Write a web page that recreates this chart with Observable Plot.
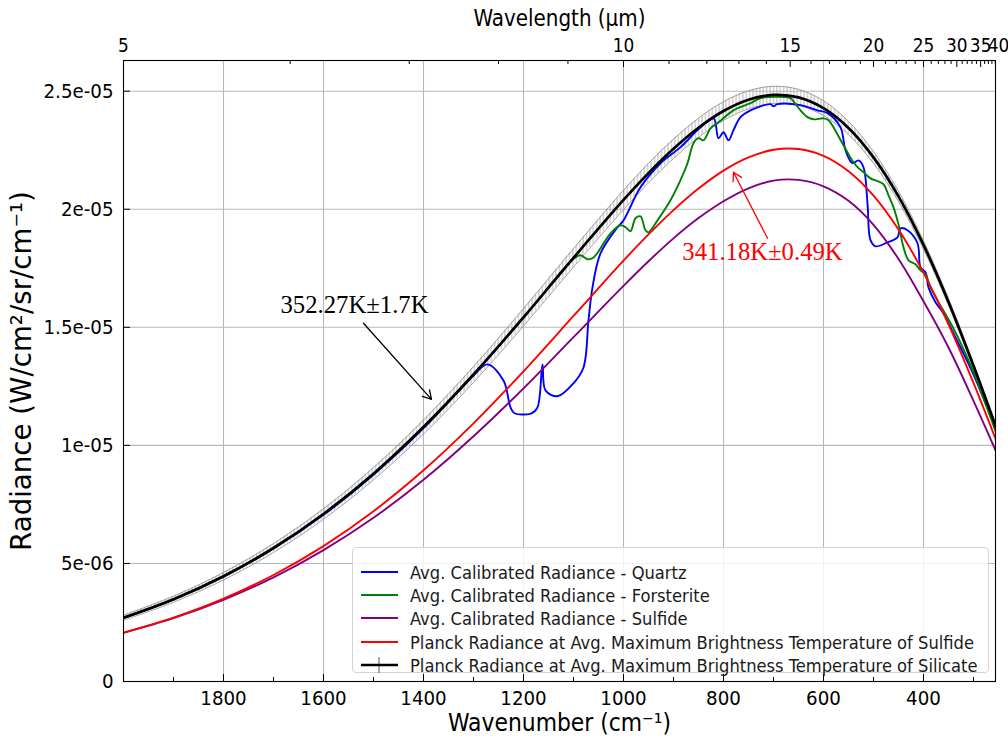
<!DOCTYPE html>
<html><head><meta charset="utf-8">
<script src="https://cdn.jsdelivr.net/npm/d3@7"></script>
<script src="https://cdn.jsdelivr.net/npm/@observablehq/plot@0.6"></script>
<style>
body{margin:0;background:#fff;}
#wrap{position:relative;width:1008px;height:736px;font-family:"DejaVu Sans",sans-serif;}
#legend{position:absolute;left:352px;top:547px;width:637px;height:126px;border:1px solid #d4d4d4;border-radius:4px;background:rgba(255,255,255,0.8);box-sizing:border-box;}
.row{position:absolute;left:7px;height:22px;display:flex;align-items:center;color:#1a1a1a;white-space:nowrap;}
.row svg{margin-right:11px;flex:none;}
</style></head><body><div id="wrap"></div>
<script>
// ---------- data ----------
const planckNu = [2000,1900,1800,1700,1600,1500,1400,1300,1200,1100,1000,950,900,850,800,750,700,650,600,550,500,450,400,350,300,250];
const silicatePlanck = [2.701e-6,3.485e-6,4.459e-6,5.653e-6,7.094e-6,8.799e-6,1.0776e-5,1.3001e-5,1.5422e-5,1.7942e-5,2.0394e-5,2.1531e-5,2.2561e-5,2.3451e-5,2.4159e-5,2.4636e-5,2.4844e-5,2.4738e-5,2.4281e-5,2.3441e-5,2.2196e-5,2.0543e-5,1.8489e-5,1.6076e-5,1.3370e-5,1.0477e-5];
const silicateErr = [1.07e-7,1.31e-7,1.58e-7,1.90e-7,2.24e-7,2.61e-7,2.98e-7,3.35e-7,3.68e-7,3.93e-7,4.09e-7,4.12e-7,4.11e-7,4.06e-7,3.96e-7,3.82e-7,3.64e-7,3.41e-7,3.14e-7,2.84e-7,2.51e-7,2.17e-7,1.81e-7,1.46e-7,1.12e-7,8.1e-8];
const sulfidePlanck = [2.0715e-6,2.7079e-6,3.5108e-6,4.5102e-6,5.7346e-6,7.2087e-6,8.9435e-6,1.0932e-5,1.3138e-5,1.5480e-5,1.7822e-5,1.8933e-5,1.9964e-5,2.0878e-5,2.1638e-5,2.2197e-5,2.2519e-5,2.2552e-5,2.2262e-5,2.1610e-5,2.0575e-5,1.9140e-5,1.7316e-5,1.5129e-5,1.2644e-5,9.952e-6];
const sulfideRad = [2.061e-6,2.681e-6,3.458e-6,4.406e-6,5.563e-6,6.935e-6,8.541e-6,1.0385e-5,1.2415e-5,1.4582e-5,1.6753e-5,1.7797e-5,1.8766e-5,1.9625e-5,2.0340e-5,2.0887e-5,2.1213e-5,2.1244e-5,2.0971e-5,2.0357e-5,1.9341e-5,1.7896e-5,1.6104e-5,1.4146e-5,1.1885e-5,9.504e-6];

const quartzNu = [2000,1900,1800,1700,1600,1500,1400,1300,1272,1240,1226,1218,1184,1172,1162,1156,1132,1100,1080,1070,1062,1046,1012,1000,966,926,886,846,820,810,800,790,780,766,746,706,700,692,646,612,592,566,556,542,530,520,512,506,496,472,452,446,432,412,406,396,390,376,360,340,300,256];
const quartzRad = [2.69e-6,3.47e-6,4.44e-6,5.63e-6,7.06e-6,8.76e-6,1.073e-5,1.296e-5,1.343e-5,1.275e-5,1.161e-5,1.136e-5,1.136e-5,1.161e-5,1.343e-5,1.233e-5,1.208e-5,1.263e-5,1.330e-5,1.530e-5,1.669e-5,1.813e-5,1.924e-5,1.953e-5,2.093e-5,2.195e-5,2.263e-5,2.347e-5,2.385e-5,2.301e-5,2.326e-5,2.292e-5,2.335e-5,2.390e-5,2.419e-5,2.445e-5,2.436e-5,2.445e-5,2.441e-5,2.419e-5,2.407e-5,2.347e-5,2.250e-5,2.195e-5,2.207e-5,2.178e-5,2.025e-5,1.869e-5,1.843e-5,1.860e-5,1.881e-5,1.919e-5,1.911e-5,1.856e-5,1.754e-5,1.733e-5,1.669e-5,1.606e-5,1.559e-5,1.474e-5,1.300e-5,1.07e-5];

const forsteriteNu = [2000,1900,1800,1700,1600,1500,1400,1300,1200,1100,1086,1072,1060,1026,1006,996,986,976,966,956,950,932,906,886,872,860,850,840,826,810,780,746,726,666,660,646,632,620,600,590,580,570,560,550,540,530,520,506,492,480,470,460,450,440,430,416,406,396,386,372,340,300,256];
const forsteriteRad = [2.70e-6,3.48e-6,4.45e-6,5.65e-6,7.09e-6,8.79e-6,1.077e-5,1.299e-5,1.541e-5,1.79e-5,1.805e-5,1.788e-5,1.796e-5,1.898e-5,1.932e-5,1.924e-5,1.907e-5,1.962e-5,1.970e-5,1.911e-5,1.902e-5,1.953e-5,2.038e-5,2.123e-5,2.195e-5,2.280e-5,2.301e-5,2.292e-5,2.343e-5,2.368e-5,2.419e-5,2.449e-5,2.470e-5,2.470e-5,2.457e-5,2.419e-5,2.390e-5,2.381e-5,2.385e-5,2.377e-5,2.347e-5,2.309e-5,2.271e-5,2.233e-5,2.199e-5,2.174e-5,2.157e-5,2.131e-5,2.119e-5,2.106e-5,2.059e-5,2.008e-5,1.936e-5,1.839e-5,1.784e-5,1.767e-5,1.741e-5,1.724e-5,1.669e-5,1.614e-5,1.495e-5,1.31e-5,1.06e-5];

const xMajorTicks = [1800,1600,1400,1200,1000,800,600,400];
const xMinorTicks = [1900,1700,1500,1300,1100,900,700,500,300];
const wavelengthLabels = [5,10,15,20,25,30,35,40];
const wavelengthMinor = [6,7,8,9,11,12,13,14,16,17,18,19,21,22,23,24,26,27,28,29,31,32,33,34,36,37,38,39];
const yTicks = [0,5e-6,1e-5,1.5e-5,2e-5,2.5e-5];
const yTickLabels = ["0","5e-06","1e-05","1.5e-05","2e-05","2.5e-05"];

const noteText = ["352.27K\u00b11.7K","341.18K\u00b10.49K"];
const noteNu = [1538,722];
const noteRad = [1.593e-5,1.818e-5];
const noteColor = ["black","red"];
const arrowFromNu = [1520,712], arrowFromRad = [1.517e-5,1.877e-5];
const arrowToNu = [1384,780], arrowToRad = [1.195e-5,2.157e-5];

const legendLabels = ["Avg. Calibrated Radiance - Quartz","Avg. Calibrated Radiance - Forsterite","Avg. Calibrated Radiance - Sulfide","Planck Radiance at Avg. Maximum Brightness Temperature of Sulfide","Planck Radiance at Avg. Maximum Brightness Temperature of Silicate"];
const legendColors = ["blue","green","purple","red","black"];

const xLabel = "Wavenumber (cm\u207b\u00b9)";
const topLabel = "Wavelength (\u00b5m)";
const yLabel = "Radiance (W/cm\u00b2/sr/cm\u207b\u00b9)";

// ---------- font sizing ----------
const ctx=document.createElement("canvas").getContext("2d");
function tw(font,text){ctx.font=font;return ctx.measureText(text).width;}
const probe="abcdefghijklmnopqrstuvwxyzWM0123";
const hasCond = Math.abs(tw("40px 'DejaVu Sans Condensed', monospace",probe)-tw("40px monospace",probe))>0.5;
const hfam = hasCond ? "'DejaVu Sans Condensed', 'DejaVu Sans', sans-serif" : "'DejaVu Sans', sans-serif";
const vfam = "'DejaVu Sans', sans-serif";
const sfam = "'Liberation Serif', 'Times New Roman', serif";
function fit(fam,text,target){return 100*target/tw("100px "+fam,text);}
const tickFS = fit(hfam,"2.5e-05",70);
const topTickFS = tickFS*0.93;
const xLabFS = fit(hfam,xLabel,223);
const topLabFS = fit(hfam,topLabel,172);
const legFS = fit(hfam,legendLabels[4],568);
const noteFS = fit(sfam,noteText[0],148);
const yLabFS = fit(vfam,yLabel,360);

// ---------- build ----------
const W=1008,H=736,mT=60,mB=55,mL=123,mR=13;
const frameH=H-mT-mB, frameW=W-mL-mR;
const planck = planckNu.map((nu,i)=>({nu, black:silicatePlanck[i], lo:silicatePlanck[i]-silicateErr[i], hi:silicatePlanck[i]+silicateErr[i], red:sulfidePlanck[i], purple:sulfideRad[i]}));
const quartz = quartzNu.map((nu,i)=>({nu, r:quartzRad[i]}));
const forst = forsteriteNu.map((nu,i)=>({nu, r:forsteriteRad[i]}));
const notes = noteText.map((t,i)=>({t, x:noteNu[i], y:noteRad[i], c:noteColor[i]}));
const arrows = arrowFromNu.map((d,i)=>({x1:d, y1:arrowFromRad[i], x2:arrowToNu[i], y2:arrowToRad[i], c:noteColor[i]}));
const topMajorNu = wavelengthLabels.map(l=>10000/l);
const topMinorNu = wavelengthMinor.map(l=>10000/l).filter(v=>v>=256);
const yLab = new Map(yTicks.map((t,i)=>[t,yTickLabels[i]]));
const curve="catmull-rom";

const plot = Plot.plot({
  width:W, height:H, marginTop:mT, marginBottom:mB, marginLeft:mL, marginRight:mR,
  style:{fontFamily:hfam, fontSize:tickFS+"px", background:"white", color:"black", overflow:"visible"},
  x:{domain:[2000,256]},
  y:{domain:[0,2.63e-5]},
  marks:[
    Plot.gridX(xMajorTicks,{stroke:"#b8b8b8", strokeOpacity:1, strokeWidth:1.1}),
    Plot.gridY(yTicks,{stroke:"#b8b8b8", strokeOpacity:1, strokeWidth:1.1}),
    Plot.areaY(planck,{x:"nu", y1:"lo", y2:"hi", curve, fill:"#cccccc", className:"band", clip:true}),
    Plot.line(planck,{x:"nu", y:"hi", curve, stroke:"#8c8c8c", strokeWidth:0.8, clip:true}),
    Plot.line(planck,{x:"nu", y:"lo", curve, stroke:"#8c8c8c", strokeWidth:0.8, clip:true}),
    Plot.line(quartz,{x:"nu", y:"r", curve, stroke:"blue", strokeWidth:1.9, clip:true}),
    Plot.line(forst,{x:"nu", y:"r", curve, stroke:"green", strokeWidth:1.9, clip:true}),
    Plot.line(planck,{x:"nu", y:"purple", curve, stroke:"purple", strokeWidth:1.9, clip:true}),
    Plot.line(planck,{x:"nu", y:"red", curve, stroke:"red", strokeWidth:1.9, clip:true}),
    Plot.line(planck,{x:"nu", y:"black", curve, stroke:"black", strokeWidth:2.7, clip:true}),
    Plot.arrow(arrows,{x1:"x1", y1:"y1", x2:"x2", y2:"y2", stroke:"c", strokeWidth:1.3, headLength:11}),
    Plot.text(notes,{x:"x", y:"y", text:"t", fill:"c", fontFamily:sfam, fontSize:noteFS}),
    Plot.frame({stroke:"black", strokeWidth:1.1}),
    Plot.ruleX(xMajorTicks,{insetTop:frameH-7, stroke:"black"}),
    Plot.ruleX(xMinorTicks,{insetTop:frameH-4, stroke:"black"}),
    Plot.ruleX(topMajorNu.filter(v=>v>=256),{insetBottom:frameH-7, stroke:"black"}),
    Plot.ruleX(topMinorNu,{insetBottom:frameH-4, stroke:"black"}),
    Plot.ruleY(yTicks,{insetRight:frameW-7, stroke:"black"}),
    Plot.axisX(xMajorTicks,{anchor:"bottom", tickSize:0, tickPadding:9, label:null, tickFormat:d=>String(d)}),
    Plot.axisX(topMajorNu,{anchor:"top", tickSize:0, tickPadding:9, label:null, fontSize:topTickFS, tickFormat:d=>String(Math.round(10000/d))}),
    Plot.axisY(yTicks,{anchor:"left", tickSize:0, tickPadding:10, label:null, tickFormat:d=>yLab.get(d)}),
    Plot.text([xLabel],{frameAnchor:"bottom", dy:42, lineAnchor:"middle", textAnchor:"middle", fontSize:xLabFS}),
    Plot.text([topLabel],{frameAnchor:"top", dy:-42, lineAnchor:"middle", textAnchor:"middle", fontSize:topLabFS}),
    Plot.text([yLabel],{frameAnchor:"left", dx:-101, rotate:-90, lineAnchor:"middle", textAnchor:"middle", fontFamily:vfam, fontSize:yLabFS})
  ]
});

const ns="http://www.w3.org/2000/svg";
const defs=document.createElementNS(ns,"defs");
defs.innerHTML='<pattern id="vhatch" patternUnits="userSpaceOnUse" width="3.4" height="10"><line x1="1.7" y1="0" x2="1.7" y2="10" stroke="#9c9c9c" stroke-width="0.8"/></pattern>';
plot.insertBefore(defs, plot.firstChild);
plot.querySelectorAll(".band, .band path").forEach(e=>e.setAttribute("fill","url(#vhatch)"));

const wrap=document.getElementById("wrap");
wrap.appendChild(plot);

// legend
const leg=document.createElement("div"); leg.id="legend";
const rowCenters=[24,47,70,94,117];
legendLabels.forEach((lab,i)=>{
  const r=document.createElement("div"); r.className="row";
  r.style.top=(rowCenters[i]-11)+"px";
  r.style.fontFamily=hfam; r.style.fontSize=legFS+"px";
  const tick = i===4 ? '<line x1="19" y1="3" x2="19" y2="19" stroke="#555" stroke-width="1"/>' : '';
  r.innerHTML='<svg width="39" height="22">'+tick+'<line x1="1" y1="11" x2="38" y2="11" stroke="'+legendColors[i]+'" stroke-width="'+(i===4?2.7:1.9)+'"/></svg><span>'+lab+'</span>';
  leg.appendChild(r);
});
wrap.appendChild(leg);
</script></body></html>
